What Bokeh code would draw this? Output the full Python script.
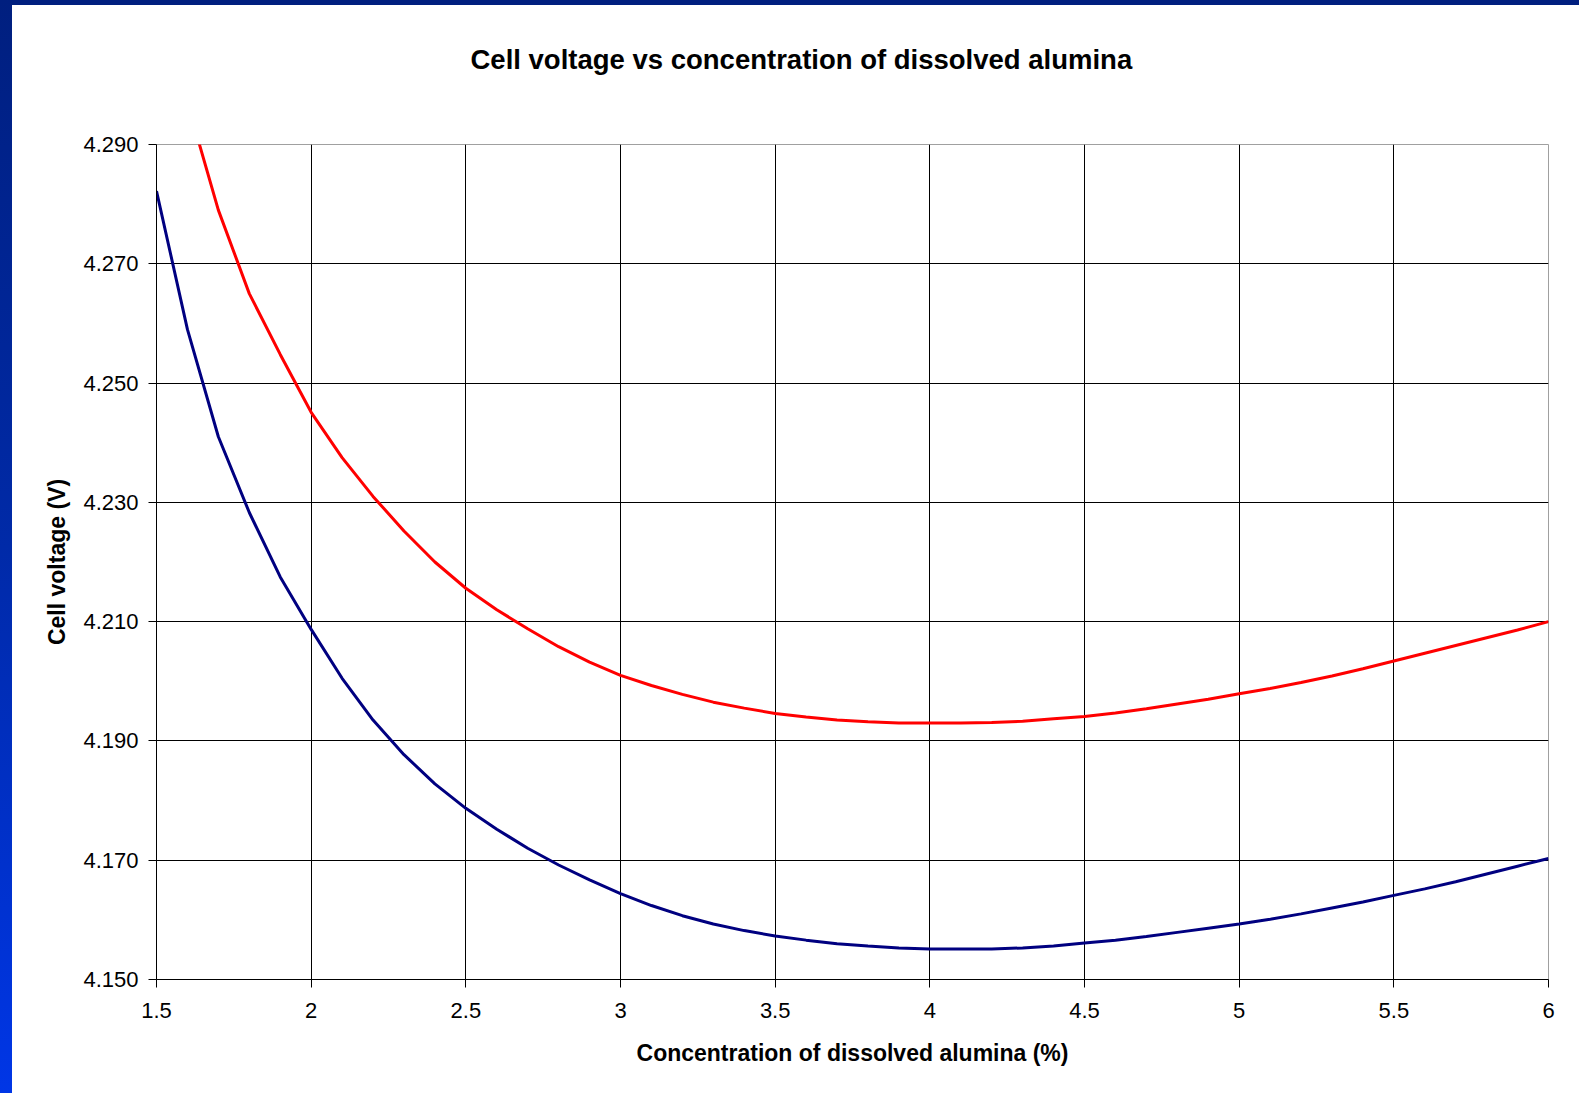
from bokeh.plotting import figure
from bokeh.models import Range1d, FixedTicker, NumeralTickFormatter, Title
from bokeh.embed import file_html
from bokeh.resources import INLINE

# Concentration of dissolved alumina (%)
conc = [1.5, 1.6, 1.7, 1.8, 1.9, 2.0, 2.1, 2.2, 2.3, 2.4, 2.5, 2.6, 2.7, 2.8, 2.9,
        3.0, 3.1, 3.2, 3.3, 3.4, 3.5, 3.6, 3.7, 3.8, 3.9, 4.0, 4.1, 4.2, 4.3, 4.4,
        4.5, 4.6, 4.7, 4.8, 4.9, 5.0, 5.1, 5.2, 5.3, 5.4, 5.5, 5.6, 5.7, 5.8, 5.9, 6.0]

# Cell voltage (V) - lower (blue) curve
volt_blue = [4.2822, 4.2590, 4.2410, 4.2283, 4.2175, 4.2087, 4.2005, 4.1935, 4.1877, 4.1828,
             4.1787, 4.1752, 4.1720, 4.1692, 4.1667, 4.1644, 4.1624, 4.1607, 4.1593, 4.1582,
             4.1573, 4.1566, 4.1560, 4.1556, 4.1553, 4.1551, 4.1551, 4.1551, 4.1553, 4.1556,
             4.1561, 4.1566, 4.1572, 4.1579, 4.1586, 4.1593, 4.1601, 4.1610, 4.1620, 4.1630,
             4.1641, 4.1652, 4.1664, 4.1677, 4.1690, 4.1703]

# Cell voltage (V) - upper (red) curve
volt_red = [4.3220, 4.2970, 4.2790, 4.2650, 4.2548, 4.2451, 4.2375, 4.2310, 4.2252, 4.2200,
            4.2156, 4.2120, 4.2088, 4.2058, 4.2032, 4.2010, 4.1993, 4.1978, 4.1965, 4.1955,
            4.1946, 4.1940, 4.1935, 4.1932, 4.1930, 4.1930, 4.1930, 4.1931, 4.1933, 4.1937,
            4.1941, 4.1947, 4.1954, 4.1962, 4.1970, 4.1979, 4.1988, 4.1998, 4.2009, 4.2021,
            4.2034, 4.2047, 4.2060, 4.2073, 4.2086, 4.2100]

x_ticks = [1.5, 2.0, 2.5, 3.0, 3.5, 4.0, 4.5, 5.0, 5.5, 6.0]
y_ticks = [4.15, 4.17, 4.19, 4.21, 4.23, 4.25, 4.27, 4.29]
title_text = "Cell voltage vs concentration of dissolved alumina"

FONT = "Liberation Sans"

p = figure(width=1579, height=1093, output_backend="svg", toolbar_location=None,
           x_range=Range1d(1.5, 6.0), y_range=Range1d(4.15, 4.29),
           min_border_left=156, min_border_right=31, min_border_top=144, min_border_bottom=114)
p.title = None

# spacer panel next to the frame, then the real title above it
p.add_layout(Title(text=" ", text_font=FONT, text_font_size="10px", standoff=17), "above")
p.add_layout(Title(text=title_text, text_font=FONT, text_font_size="27.5px",
                   text_font_style="bold", text_color="black",
                   align="left", offset=314, standoff=80), "above")

p.background_fill_color = "white"
p.border_fill_color = None
p.outline_line_color = "#a0a0a0"
p.outline_line_width = 1

p.line(conc, volt_blue, line_color="#000080", line_width=3)
p.line(conc, volt_red, line_color="#ff0000", line_width=3)

for ax in (p.xaxis[0], p.yaxis[0]):
    ax.axis_line_color = "black"
    ax.axis_line_width = 1
    ax.major_tick_line_color = "black"
    ax.major_tick_out = 8
    ax.major_tick_in = 0
    ax.minor_tick_line_color = None
    ax.major_label_text_font = FONT
    ax.major_label_text_font_size = "22px"
    ax.major_label_text_color = "black"
    ax.axis_label_text_font = FONT
    ax.axis_label_text_font_size = "23px"
    ax.axis_label_text_font_style = "bold"
    ax.axis_label_text_color = "black"

p.xaxis[0].ticker = FixedTicker(ticks=x_ticks)
p.xaxis[0].formatter = NumeralTickFormatter(format="0.[0]")
p.xaxis[0].axis_label = "Concentration of dissolved alumina (%)"
p.xaxis[0].major_label_standoff = 15
p.xaxis[0].axis_label_standoff = 19

p.yaxis[0].ticker = FixedTicker(ticks=y_ticks)
p.yaxis[0].formatter = NumeralTickFormatter(format="0.000")
p.yaxis[0].axis_label = "Cell voltage (V)"
p.yaxis[0].major_label_standoff = 10
p.yaxis[0].axis_label_standoff = 10

p.xgrid[0].ticker = FixedTicker(ticks=x_ticks[1:-1])
p.ygrid[0].ticker = FixedTicker(ticks=y_ticks[:-1])
for g in (p.xgrid[0], p.ygrid[0]):
    g.grid_line_color = "black"
    g.grid_line_width = 1
    g.grid_line_alpha = 1.0

html = file_html(p, INLINE, title=title_text)
css = ("<style>html{background:"
       "linear-gradient(180deg,#001f7f 0%,#002aa8 50%,#0036e6 100%) 0 0/12px 100% no-repeat fixed,"
       "linear-gradient(#001f7f,#001f7f) 0 0/100% 5px no-repeat fixed,#ffffff;}"
       "body{background:transparent;}</style>")
html = html.replace("</head>", css + "</head>", 1)
open("out.html", "w").write(html)
